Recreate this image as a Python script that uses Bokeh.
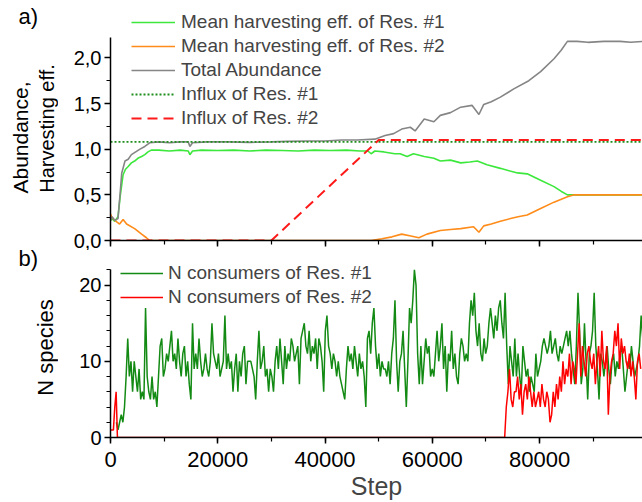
import numpy as np
from bokeh.plotting import figure
from bokeh.layouts import column, row
from bokeh.models import (Range1d, SingleIntervalTicker, CustomJSTickFormatter,
                          Legend, LegendItem, Label)
from bokeh.embed import file_html
from bokeh.resources import INLINE

# ---------------- data ----------------
X_END = 99200

EFF1_STEPS = [0, 300, 800, 1400, 1800, 2350, 2800, 3300, 3900, 4500, 5100, 5800, 6400,
              7000, 7600, 9000, 11000, 13000, 14500, 14800, 15300, 17000, 20000, 23000,
              26000, 29000, 32000, 35000, 38000, 41000, 44000, 46500, 48000, 48600,
              49300, 51000, 53000, 54000, 55300, 56500, 58500, 60300, 61500, 63400,
              65300, 67000, 68400, 70200, 72700, 74500, 75900, 77700, 80200, 82700,
              84000, 85200, 87000, 90000, 93000, 96000, 99200]
EFF1_VALUES = [0.22, 0.24, 0.21, 0.26, 0.48, 0.72, 0.78, 0.81, 0.85, 0.87, 0.90, 0.92, 0.94,
               0.97, 0.99, 0.99, 0.98, 0.99, 0.98, 0.94, 0.98, 0.99, 0.985, 0.99,
               0.98, 0.99, 0.985, 0.98, 0.99, 0.985, 0.99, 0.98, 0.98, 0.95,
               0.98, 0.97, 0.95, 0.95, 0.92, 0.95, 0.92, 0.90, 0.87, 0.88,
               0.85, 0.86, 0.87, 0.83, 0.79, 0.76, 0.74, 0.73, 0.66, 0.59,
               0.54, 0.50, 0.50, 0.50, 0.50, 0.50, 0.50]

EFF2_STEPS = [0, 200, 800, 1700, 2350, 3000, 4500, 5800, 6700, 7300, 20000, 40000, 48600,
              50600, 52500, 54300, 56000, 57500, 59000, 61500, 63400, 65300, 67700,
              68700, 69600, 71000, 72700, 74600, 76000, 77700, 80200, 82700, 85200,
              86500, 90000, 95000, 99200]
EFF2_VALUES = [0.29, 0.26, 0.22, 0.18, 0.23, 0.18, 0.13, 0.07, 0.03, 0.0, 0.0, 0.0, 0.0,
               0.02, 0.04, 0.07, 0.05, 0.03, 0.07, 0.11, 0.12, 0.13, 0.15,
               0.09, 0.16, 0.18, 0.21, 0.24, 0.26, 0.28, 0.35, 0.42, 0.48,
               0.50, 0.50, 0.50, 0.50]

TOTAL_STEPS = [0, 300, 800, 1400, 1800, 2100, 2700, 3300, 3900, 4700, 5500, 6400, 7300,
               9000, 11000, 13000, 14500, 14800, 15300, 18000, 22000, 26000, 30000,
               33000, 36900, 40000, 43100, 46000, 49300, 51200, 52800, 54300, 55900,
               56800, 58500, 60300, 61500, 63400, 65300, 67400, 68700, 69600, 71000,
               72700, 75200, 78000, 80200, 82700, 84000, 85200, 87000, 89000, 92000,
               95000, 97000, 99200]
TOTAL_VALUES = [0.22, 0.26, 0.22, 0.24, 0.52, 0.74, 0.87, 0.89, 0.94, 0.97, 1.00, 1.03, 1.07,
                1.08, 1.07, 1.08, 1.08, 1.03, 1.07, 1.08, 1.08, 1.075, 1.08,
                1.085, 1.09, 1.09, 1.10, 1.10, 1.11, 1.15, 1.17, 1.22, 1.24,
                1.20, 1.33, 1.30, 1.37, 1.40, 1.46, 1.48, 1.38, 1.49, 1.52,
                1.57, 1.66, 1.75, 1.85, 1.99, 2.08, 2.18, 2.18, 2.17, 2.18,
                2.18, 2.17, 2.18]

INFLUX1_STEPS = [0, 99200]
INFLUX1_VALUES = [1.08, 1.08]
INFLUX2_STEPS = [0, 30000, 50000, 99200]
INFLUX2_VALUES = [0.0, 0.0, 1.10, 1.10]

# N consumers of Res. #1, sampled every N1_DT steps from N1_START
N1_START = 1100
N1_DT = 302
N1_VALUES = [
    2, 1, 2, 3, 2, 4, 8, 13, 8, 10, 6, 10, 8, 6, 9, 5, 6, 5, 17, 8,
    6, 5, 8, 5, 6, 4, 8, 12, 13, 8, 9, 11, 10, 12, 14, 10, 11, 9, 13, 10,
    8, 11, 12, 8, 10, 7, 5, 15, 9, 11, 9, 13, 10, 8, 9, 11, 9, 8, 10, 15,
    11, 10, 9, 11, 8, 9, 10, 16, 9, 11, 9, 10, 6, 9, 11, 6, 10, 8, 11, 12,
    7, 10, 10, 10,
    9, 8, 5, 10, 14, 9, 10, 12, 8, 9, 6, 9, 8, 6, 10, 12, 9, 13, 10, 7,
    12, 9, 11, 10, 13, 12, 10, 11, 12, 7, 13, 14, 15, 12, 11, 14, 10, 12, 11, 13,
    9, 13, 12, 10, 6, 14, 16, 12, 11, 9, 11, 10, 8, 10, 8, 7, 6, 5, 9, 12,
    10, 11, 9, 12, 10, 8, 11, 9, 10, 8, 4, 13, 14, 11, 15, 17, 12, 9, 11, 8,
    10, 9,
    9, 8, 10, 7, 11, 13, 18, 10, 6, 10, 11, 14, 9, 4, 10, 17, 15, 18, 22, 20,
    11, 7, 12, 7, 10, 13, 11, 12, 8, 9, 8, 11, 14, 10, 12, 15, 9, 12, 6, 11,
    10, 14, 9, 11, 8, 7, 11, 13, 12, 10, 11, 10, 15, 18, 16, 19, 14, 12, 15, 11,
    10, 13, 11, 12, 15, 17, 15, 13, 16, 14, 17, 18, 15, 13, 19, 12, 7, 12, 10, 8,
    13,
    8, 11, 8, 6, 12, 10, 8, 9, 6, 8, 7, 6, 11, 8, 9, 10, 12, 13, 12, 11,
    12, 14, 11, 12, 13, 11, 10, 12, 11, 12, 13, 14, 12, 14, 11, 9, 7, 12, 19, 14,
    7, 9, 15, 10, 5, 11, 12, 14, 19, 12, 9, 5,
    11, 10, 8, 10, 12, 9, 7, 10, 11, 8, 10, 9, 11, 12, 9, 6, 8, 10, 9, 12,
    10, 8, 9, 10, 12, 16, 13]

# N consumers of Res. #2: early burst, then zero, then sampled every N2_DT steps
N2_EARLY_STEPS = [0, 540, 800, 1050, 1290]
N2_EARLY_VALUES = [1, 1, 4, 6, 0]
N2_LATE_START = 73500
N2_DT = 302
N2_LATE_VALUES = [
    0, 4, 6, 9, 5, 4, 6,
    6, 8, 5, 7, 3, 6, 7, 5, 8, 6, 4, 6, 4, 5, 6, 4, 7, 5, 4, 6,
    5, 2, 3, 6, 4, 7, 5, 8, 6, 10, 7, 9, 8, 11, 7, 10, 9, 7, 11, 15,
    8, 12, 10, 8, 11, 12, 10, 9, 11, 7, 10, 12, 8, 14, 10, 9, 12, 3, 8, 10,
    11, 14, 12, 15, 9, 13, 11, 12, 10, 9, 11, 8, 10, 8, 5, 10, 11, 9]

# ---------------- styling helpers ----------------
FONT = "Liberation Sans"

def style_axis(ax, size):
    ax.axis_line_width = 1.5
    ax.axis_line_color = "#000000"
    ax.major_tick_line_width = 1.5
    ax.minor_tick_line_width = 1.2
    ax.major_tick_line_color = "#000000"
    ax.minor_tick_line_color = "#000000"
    ax.major_tick_out = 6
    ax.major_tick_in = 0
    ax.minor_tick_out = 4
    ax.minor_tick_in = 0
    ax.major_label_text_font = FONT
    ax.major_label_text_font_size = size
    ax.major_label_text_color = "#000000"

def plain(p):
    p.outline_line_color = None
    p.grid.grid_line_color = None
    p.background_fill_color = "white"
    p.border_fill_color = "white"

# ---------------- left strip with panel letters and y titles ----------------
strip = figure(width=58, height=502, x_range=Range1d(0, 58), y_range=Range1d(0, 502),
               output_backend="svg", toolbar_location=None,
               x_axis_location=None, y_axis_location=None,
               min_border_left=0, min_border_right=0, min_border_top=0, min_border_bottom=0)
plain(strip)
for txt, x, y, size, ang, align in [
        ("a)", 18, 486, "22px", 0, "left"),
        ("Abundance,", 20, 365, "21px", np.pi / 2, "center"),
        ("Harvesting eff.", 46, 374, "20px", np.pi / 2, "center"),
        ("b)", 18, 244, "22px", 0, "left"),
        ("N species", 45, 155, "22px", np.pi / 2, "center")]:
    strip.add_layout(Label(x=x, y=y, x_units="screen", y_units="screen", text=txt, angle=ang,
                           text_align=align, text_baseline="middle", text_font=FONT,
                           text_font_size=size, text_color="#000000"))

# ---------------- top panel ----------------
top = figure(width=584, height=250, x_range=Range1d(0, X_END), y_range=Range1d(0, 2.628),
             output_backend="svg", toolbar_location=None,
             min_border_left=52, min_border_right=0, min_border_top=0, min_border_bottom=10)
plain(top)
top.xaxis.ticker = SingleIntervalTicker(interval=20000, num_minor_ticks=2)
top.yaxis.ticker = SingleIntervalTicker(interval=0.5, num_minor_ticks=2)
top.yaxis.formatter = CustomJSTickFormatter(code="return tick.toFixed(1).replace('.', ',');")
top.xaxis.formatter = CustomJSTickFormatter(code="return '';")
style_axis(top.xaxis[0], "10px")
top.xaxis.major_label_standoff = 0
style_axis(top.yaxis[0], "20px")
top.yaxis.major_label_standoff = 3
top.yaxis.bounds = (0, 2.226)

r_e1 = top.line(EFF1_STEPS, EFF1_VALUES, line_color="#3ce83c", line_width=1.6)
r_e2 = top.line(EFF2_STEPS, EFF2_VALUES, line_color="#ff8c1a", line_width=1.6)
r_tot = top.line(TOTAL_STEPS, TOTAL_VALUES, line_color="#858585", line_width=1.6)
r_in1 = top.line(INFLUX1_STEPS, INFLUX1_VALUES, line_color="#1f8f1f", line_width=1.8,
                 line_dash="2 2")
r_in2 = top.line(INFLUX2_STEPS, INFLUX2_VALUES, line_color="#ff1a1a", line_width=2,
                 line_dash="10 6")

leg1 = Legend(items=[
    LegendItem(label="Mean harvesting eff. of Res. #1", renderers=[r_e1]),
    LegendItem(label="Mean harvesting eff. of Res. #2", renderers=[r_e2]),
    LegendItem(label="Total Abundance", renderers=[r_tot]),
    LegendItem(label="Influx of Res. #1", renderers=[r_in1]),
    LegendItem(label="Influx of Res. #2", renderers=[r_in2]),
], location=(21, 111), margin=0, padding=0, spacing=2, glyph_width=44, glyph_height=20,
    label_height=20, label_standoff=6, label_text_font=FONT, label_text_font_size="19px",
    background_fill_alpha=0, border_line_color=None)
top.add_layout(leg1, "center")

# ---------------- bottom panel ----------------
bot = figure(width=584, height=252, x_range=Range1d(0, X_END), y_range=Range1d(0, 24.54),
             output_backend="svg", toolbar_location=None,
             min_border_left=52, min_border_right=0, min_border_top=0, min_border_bottom=65)
plain(bot)
bot.xaxis.ticker = SingleIntervalTicker(interval=20000, num_minor_ticks=2)
bot.yaxis.ticker = SingleIntervalTicker(interval=10, num_minor_ticks=5)
style_axis(bot.xaxis[0], "22px")
style_axis(bot.yaxis[0], "20px")
bot.yaxis.bounds = (0, 22)
bot.xaxis.major_label_standoff = 8
bot.yaxis.major_label_standoff = 3
bot.xaxis.axis_label = "Step"
bot.xaxis.axis_label_text_font = FONT
bot.xaxis.axis_label_text_font_size = "25px"
bot.xaxis.axis_label_text_font_style = "normal"
bot.xaxis.axis_label_standoff = 2

n1_steps = N1_START + N1_DT * np.arange(len(N1_VALUES))
n2_steps = list(N2_EARLY_STEPS) + list(N2_LATE_START + N2_DT * np.arange(len(N2_LATE_VALUES)))
n2_values = list(N2_EARLY_VALUES) + list(N2_LATE_VALUES)

r_n1 = bot.line(n1_steps, N1_VALUES, line_color="#138a13", line_width=1.5)
r_n2 = bot.line(n2_steps, n2_values, line_color="#ff0000", line_width=1.5)

leg2 = Legend(items=[
    LegendItem(label="N consumers of Res. #1", renderers=[r_n1]),
    LegendItem(label="N consumers of Res. #2", renderers=[r_n2]),
], location=(10, 129), margin=0, padding=0, spacing=2, glyph_width=43, glyph_height=20,
    label_height=20, label_standoff=5, label_text_font=FONT, label_text_font_size="19px",
    background_fill_alpha=0, border_line_color=None)
bot.add_layout(leg2, "center")

layout = row(strip, column(top, bot, spacing=0), spacing=0)
open("out.html", "w").write(file_html(layout, INLINE))
